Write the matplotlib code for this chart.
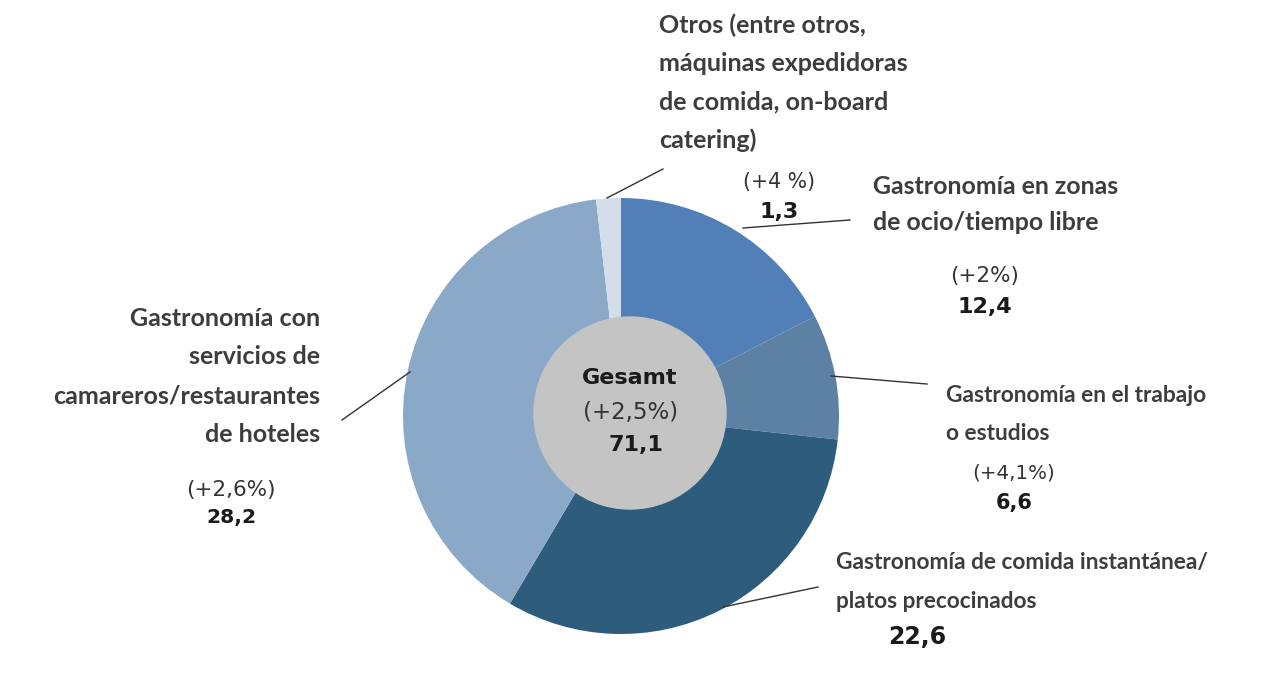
import matplotlib
matplotlib.use('Agg')
import matplotlib.pyplot as plt
from matplotlib.patches import Circle

# Segment values (Mrd. EUR), clockwise from the top
segments = ['zonas de ocio', 'trabajo/estudios', 'comida instantanea', 'camareros/hoteles', 'otros']
values = [12.4, 6.6, 22.6, 28.2, 1.3]
growth = ['(+2%)', '(+4,1%)', '', '(+2,6%)', '(+4 %)']
labels = [
    ['Gastronomía en zonas', 'de ocio/tiempo libre'],
    ['Gastronomía en el trabajo', 'o estudios'],
    ['Gastronomía de comida instantánea/', 'platos precocinados'],
    ['Gastronomía con', 'servicios de', 'camareros/restaurantes', 'de hoteles'],
    ['Otros (entre otros,', 'máquinas expedidoras', 'de comida, on-board', 'catering)'],
]
colors = ['#5180b8', '#5c81a3', '#2e5c7d', '#8aa9c9', '#d4deea']

total = 71.1
total_growth = '(+2,5%)'

label_font = 'Lato'
num_font = 'DejaVu Sans'
grey_txt = '#3d3d3d'

W, H = 1276, 695
cx, cy, r = 621, 416, 218

fig = plt.figure(figsize=(W / 100, H / 100), dpi=100)
ax = fig.add_axes([0, 0, 1, 1])

# y axis runs downward, so counterclock in data space reads clockwise on screen
ax.pie(values, colors=colors, startangle=-90, counterclock=True,
       center=(cx, cy), radius=r, wedgeprops=dict(linewidth=0))
ax.add_patch(Circle((630, 413), 96, color='#c4c4c4', zorder=5))

ax.set_xlim(0, W)
ax.set_ylim(H, 0)
ax.set_aspect('auto')
ax.axis('off')

def fmt(v):
    return f'{v:.1f}'.replace('.', ',')

# centre
ax.text(630, 378, 'Gesamt', ha='center', va='center', fontsize=16, fontweight='bold',
        family=num_font, color='#1a1a1a', zorder=6)
ax.text(631, 413, total_growth, ha='center', va='center', fontsize=16.5,
        family=num_font, color='#333333', zorder=6)
ax.text(636, 445, fmt(total), ha='center', va='center', fontsize=16, fontweight='bold',
        family=num_font, color='#1a1a1a', zorder=6)

# category labels: anchor x, first line y, line step, alignment, size
label_layout = [(873, 186, 36, 'left', 17.9),
                (946, 395, 39, 'left', 16.4),
                (836, 562, 40, 'left', 16.3),
                (320, 318, 39, 'right', 18),
                (659, 25, 38.3, 'left', 18)]
for lines, (x, y, step, ha, fs) in zip(labels, label_layout):
    for i, s in enumerate(lines):
        ax.text(x, y + step * i, s, ha=ha, va='center', fontsize=fs, fontweight='bold',
                family=label_font, color=grey_txt)

# value labels: growth above, value below
val_layout = [(985, 276, 307, 15.5, 16),
              (1014, 473, 503, 14.3, 15),
              (917, None, 637, 0, 17),
              (231, 490, 518, 15.5, 14.6),
              (779, 182, 212, 14.8, 16)]
for (x, yg, yv, gs, vs), g, v in zip(val_layout, growth, values):
    if g:
        ax.text(x, yg, g, ha='center', va='center', fontsize=gs, family=num_font,
                color='#333333')
    ax.text(x, yv, fmt(v), ha='center', va='center', fontsize=vs,
            fontweight='bold', family=num_font, color='#1a1a1a')

# leader lines
leaders = [((743, 228), (850, 220)), ((831, 376), (927, 384)),
           ((723, 607), (818, 587)), ((342, 420), (410, 372)),
           ((607, 198), (663, 169))]
for (x0, y0), (x1, y1) in leaders:
    ax.plot([x0, x1], [y0, y1], color='#333333', lw=1, zorder=7)

fig.savefig('out.png', dpi=100, facecolor='white')
